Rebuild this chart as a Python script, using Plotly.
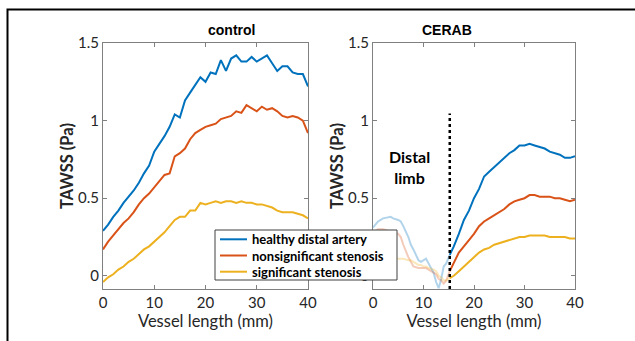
import plotly.graph_objects as go

# ---- data: time-averaged wall shear stress along the vessel ----
x_ctrl = list(range(0, 41))
ctrl_healthy = [0.29, 0.33, 0.38, 0.42, 0.47, 0.51, 0.55, 0.60, 0.66, 0.71, 0.80,
                0.85, 0.90, 0.96, 1.04, 1.02, 1.13, 1.18, 1.23, 1.28, 1.25,
                1.31, 1.30, 1.39, 1.32, 1.40, 1.42, 1.38, 1.38, 1.41, 1.38,
                1.40, 1.42, 1.37, 1.32, 1.35, 1.35, 1.31, 1.30, 1.30, 1.22]
ctrl_nonsig = [0.17, 0.22, 0.26, 0.30, 0.34, 0.37, 0.41, 0.46, 0.50, 0.53, 0.57,
               0.61, 0.65, 0.66, 0.77, 0.79, 0.82, 0.88, 0.92, 0.94, 0.96,
               0.97, 0.98, 1.01, 1.02, 1.03, 1.06, 1.05, 1.10, 1.08, 1.06,
               1.09, 1.07, 1.08, 1.06, 1.03, 1.02, 1.03, 1.02, 1.00, 0.92]
ctrl_sig = [-0.04, -0.01, 0.01, 0.04, 0.06, 0.09, 0.11, 0.14, 0.17, 0.19, 0.22,
            0.25, 0.28, 0.32, 0.36, 0.38, 0.38, 0.42, 0.42, 0.47, 0.46,
            0.47, 0.48, 0.47, 0.48, 0.48, 0.47, 0.48, 0.47, 0.47, 0.46,
            0.46, 0.45, 0.44, 0.42, 0.41, 0.41, 0.41, 0.40, 0.39, 0.37]

# CERAB: distal limb segment (0-15 mm) drawn faded, stented segment solid
x_limb = [0, 0.5, 1, 2, 3, 3.5, 4, 5, 5.5, 6, 7, 7.5, 8, 9, 9.5, 10, 10.5,
          11, 12, 12.5, 13, 13.5, 14, 14.5, 15.2]
limb_healthy = [0.31, 0.33, 0.35, 0.37, 0.38, 0.38, 0.37, 0.36, 0.35, 0.32,
                0.25, 0.20, 0.17, 0.10, 0.09, 0.10, 0.11, 0.08, 0.02, -0.04,
                -0.08, -0.02, 0.06, 0.08, 0.135]
limb_nonsig = [0.28, 0.29, 0.30, 0.30, 0.29, 0.29, 0.28, 0.27, 0.25, 0.20,
               0.12, 0.09, 0.06, 0.05, 0.05, 0.05, 0.05, 0.04, 0.02, 0.01,
               -0.02, -0.03, -0.05, -0.03, 0.03]
limb_sig = [0.14, 0.14, 0.13, 0.13, 0.12, 0.12, 0.12, 0.11, 0.11, 0.11,
            0.10, 0.10, 0.09, 0.07, 0.07, 0.06, 0.06, 0.05, 0.04, 0.03,
            0.00, -0.01, -0.03, -0.03, -0.015]

x_cerab = [15.2] + list(range(16, 41))
cerab_healthy = [0.135, 0.19, 0.27, 0.36, 0.42, 0.50, 0.56, 0.64, 0.67, 0.70,
                 0.73, 0.76, 0.79, 0.81, 0.84, 0.84, 0.85, 0.84, 0.83, 0.82,
                 0.80, 0.79, 0.78, 0.76, 0.76, 0.77]
cerab_nonsig = [0.03, 0.08, 0.15, 0.19, 0.23, 0.27, 0.32, 0.35, 0.37, 0.39,
                0.41, 0.43, 0.46, 0.48, 0.49, 0.50, 0.52, 0.52, 0.51, 0.51,
                0.51, 0.50, 0.50, 0.49, 0.48, 0.49]
cerab_sig = [-0.015, 0.00, 0.03, 0.06, 0.09, 0.12, 0.15, 0.17, 0.18, 0.20,
             0.21, 0.22, 0.23, 0.24, 0.25, 0.25, 0.26, 0.26, 0.26, 0.26,
             0.25, 0.25, 0.25, 0.25, 0.24, 0.24]

series_names = ["healthy distal artery", "nonsignificant stenosis", "significant stenosis"]
colors = ["#0072BD", "#D95319", "#EDB120"]
faded = ["rgba(0,114,189,0.3)", "rgba(217,83,25,0.3)", "rgba(237,177,32,0.3)"]

x_ticks = [0, 10, 20, 30, 40]
y_ticks = [0, 0.5, 1, 1.5]
y_tick_text = ["0", "0.5", "1", "1.5"]
limb_boundary = 15.2

W, H = 635, 341


def px(x):
    return x / W


def py(y):
    return 1 - y / H


fig = go.Figure()

for name, ys, c in zip(series_names, [ctrl_healthy, ctrl_nonsig, ctrl_sig], colors):
    fig.add_trace(go.Scatter(x=x_ctrl, y=ys, mode="lines", name=name, showlegend=False,
                             line=dict(color=c, width=2), xaxis="x", yaxis="y"))

for name, ys, c in zip(series_names, [limb_healthy, limb_nonsig, limb_sig], faded):
    fig.add_trace(go.Scatter(x=x_limb, y=ys, mode="lines", name=name, showlegend=False,
                             line=dict(color=c, width=2), xaxis="x2", yaxis="y2"))

for name, ys, c in zip(series_names, [cerab_healthy, cerab_nonsig, cerab_sig], colors):
    fig.add_trace(go.Scatter(x=x_cerab, y=ys, mode="lines", name=name, showlegend=False,
                             line=dict(color=c, width=2), xaxis="x2", yaxis="y2"))

# boundary between distal limb and stented segment
fig.add_trace(go.Scatter(x=[limb_boundary, limb_boundary], y=[-0.085, 1.045],
                         mode="lines", showlegend=False,
                         line=dict(color="black", width=2.5, dash="dot"),
                         xaxis="x2", yaxis="y2"))

FONT = "Lato, Open Sans, sans-serif"
tick_font = dict(family=FONT, size=15, color="#262626")
title_font = dict(family=FONT, size=16.5, color="#262626")

common_x = dict(range=[0, 40], tickvals=x_ticks, ticks="inside", ticklen=4,
                tickcolor="#808080", showline=True, linecolor="#808080", linewidth=1,
                mirror="ticks", showgrid=False, zeroline=False, tickfont=tick_font,
                automargin=False,
                title=dict(text="Vessel length (mm)", font=title_font, standoff=0))
common_y = dict(range=[-0.085, 1.5], tickvals=y_ticks, ticktext=y_tick_text,
                ticks="inside", ticklen=4, tickcolor="#808080", showline=True,
                linecolor="#808080", linewidth=1, mirror="ticks", showgrid=False,
                zeroline=False, tickfont=tick_font, automargin=False,
                title=dict(text="<b>TAWSS (Pa)</b>", font=title_font, standoff=0))

# legend box drawn as a framed panel over the two subplots
leg_left, leg_top, leg_right, leg_bottom = 215, 230, 397, 280
leg_rows = [239.3, 255.5, 271.7]
leg_line = (220, 247)
leg_text_x = 250

shapes = [
    # figure frame (left and top edges) as one open path in pixel-based paper units
    dict(type="path", xref="paper", yref="paper",
         path=f"M {px(7.5)},0 L {px(7.5)},{py(9.5)} L 1,{py(9.5)}",
         line=dict(color="black", width=2), layer="above"),
    dict(type="rect", xref="paper", yref="paper", x0=px(leg_left), x1=px(leg_right),
         y0=py(leg_bottom), y1=py(leg_top), fillcolor="white",
         line=dict(color="#404040", width=1), layer="above"),
]
annotations = [
    dict(text="<b>control</b>", x=px(205.5), y=py(30), xref="paper", yref="paper",
         showarrow=False, yanchor="middle",
         font=dict(family="Liberation Sans, Arial, sans-serif", size=14, color="black")),
    dict(text="<b>CERAB</b>", x=px(474), y=py(30), xref="paper", yref="paper",
         showarrow=False, yanchor="middle",
         font=dict(family="Liberation Sans, Arial, sans-serif", size=14, color="black")),
    dict(text="<b>Distal<br>limb</b>", x=7.2, y=0.70, xref="x2", yref="y2",
         showarrow=False, align="center", yanchor="middle",
         font=dict(family=FONT, size=16, color="black")),
]
for name, c, row in zip(series_names, colors, leg_rows):
    shapes.append(dict(type="line", xref="paper", yref="paper",
                       x0=px(leg_line[0]), x1=px(leg_line[1]), y0=py(row), y1=py(row),
                       line=dict(color=c, width=2), layer="above"))
    annotations.append(dict(text=f"<b>{name}</b>", x=px(leg_text_x), y=py(row),
                            xref="paper", yref="paper", xanchor="left", yanchor="middle",
                            showarrow=False,
                            font=dict(family=FONT, size=13, color="black")))

fig.update_layout(
    width=W, height=H,
    margin=dict(l=0, r=0, t=0, b=0, autoexpand=False),
    paper_bgcolor="white", plot_bgcolor="white",
    xaxis=dict(domain=[px(103), px(308)], anchor="y", **common_x),
    yaxis=dict(domain=[py(289), py(43)], anchor="x", **common_y),
    xaxis2=dict(domain=[px(373), px(575)], anchor="y2", **common_x),
    yaxis2=dict(domain=[py(289), py(43)], anchor="x2", **common_y),
    showlegend=False,
    annotations=annotations,
    shapes=shapes,
)

fig.write_html("out.html")
